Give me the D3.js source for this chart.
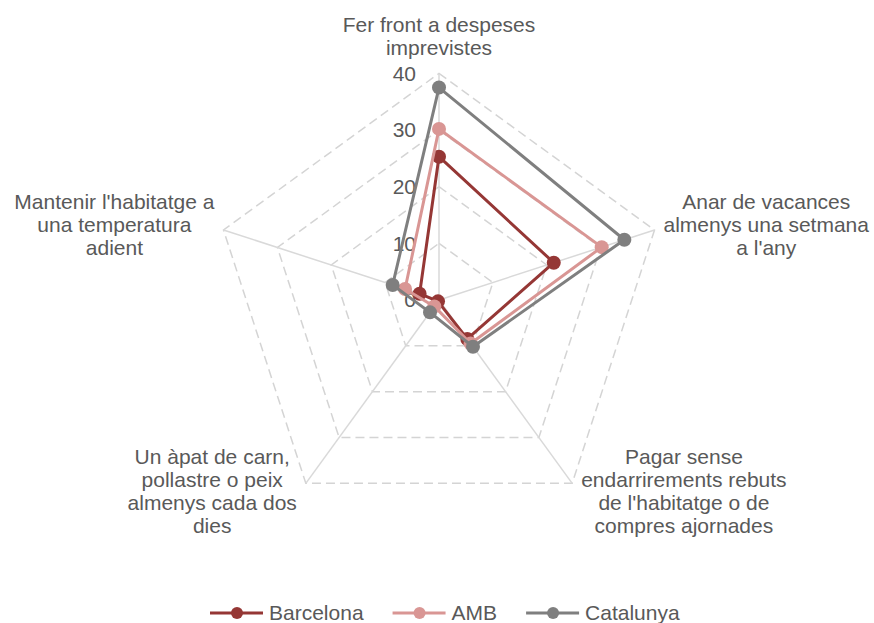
<!DOCTYPE html>
<html>
<head>
<meta charset="utf-8">
<script src="https://cdn.jsdelivr.net/npm/d3@7"></script>
<style>
body { margin: 0; background: #fff; }
text { font-family: "Liberation Sans", Arial, sans-serif; fill: #595959; font-size: 21px; }
</style>
</head>
<body>
<div id="my_dataviz"></div>
<script>
// axis labels, clockwise from the top
var categories = [
    ["Fer front a despeses", "imprevistes"],
    ["Anar de vacances", "almenys una setmana", "a l'any"],
    ["Pagar sense", "endarrirements rebuts", "de l'habitatge o de", "compres ajornades"],
    ["Un àpat de carn,", "pollastre o peix", "almenys cada dos", "dies"],
    ["Mantenir l'habitatge a", "una temperatura", "adient"]
];
var barcelona = [25.3, 21.3, 8.5, 0.3, 3.6];
var amb = [30.2, 30.2, 9.5, 1.4, 6.3];
var catalunya = [37.5, 34.4, 10.2, 2.7, 8.6];
var seriesNames = ["Barcelona", "AMB", "Catalunya"];
var tickValues = [0, 10, 20, 30, 40];

var width = 874,
    height = 623,
    center = {x: 439, y: 300},
    radius = 226.6,
    lineH = 23;

var colors = ["#953735", "#d99694", "#7f7f7f"];
var series = [barcelona, amb, catalunya];

var svg = d3.select("#my_dataviz")
    .append("svg")
    .attr("width", width)
    .attr("height", height);

var r = d3.scaleLinear().domain([0, 40]).range([0, radius]);
var angle = function(i) { return i * 2 * Math.PI / categories.length; };

var g = svg.append("g")
    .attr("transform", `translate(${center.x},${center.y})`);

// dashed rings
var ring = d3.lineRadial()
    .angle(function(d, i) { return angle(i); })
    .radius(function(d) { return r(d); })
    .curve(d3.curveLinearClosed);

g.selectAll(".ring")
    .data(tickValues.filter(function(t) { return t > 0; }))
    .enter().append("path")
    .attr("class", "ring")
    .attr("fill", "none")
    .attr("stroke", "#d4d4d4")
    .attr("stroke-width", 1.5)
    .attr("stroke-dasharray", "9,5")
    .attr("d", function(t) { return ring(categories.map(function() { return t; })); });

// spokes
g.selectAll(".spoke")
    .data(categories)
    .enter().append("line")
    .attr("class", "spoke")
    .attr("stroke", "#d9d9d9")
    .attr("stroke-width", 1.5)
    .attr("x1", 0).attr("y1", 0)
    .attr("x2", function(d, i) { return Math.sin(angle(i)) * r(40); })
    .attr("y2", function(d, i) { return -Math.cos(angle(i)) * r(40); });

// tick labels
g.selectAll(".tick")
    .data(tickValues)
    .enter().append("text")
    .attr("class", "tick")
    .attr("x", -23)
    .attr("y", function(t) { return -r(t); })
    .attr("dy", "0.35em")
    .attr("text-anchor", "end")
    .text(function(t) { return t; });

// category labels
categories.forEach(function(lines, i) {
    var vx = Math.sin(angle(i)) * r(40),
        vy = -Math.cos(angle(i)) * r(40);
    var t = g.append("text").attr("text-anchor", "middle");
    lines.forEach(function(s, k) {
        t.append("tspan").attr("x", 0).attr("y", k * lineH).text(s);
    });
    var w = d3.max(t.selectAll("tspan").nodes(), function(n) { return n.getComputedTextLength(); });
    var blockH = (lines.length - 1) * lineH;
    var x, y;
    if (Math.abs(vx) < 1) {
        x = vx;
        y = vy - 11 - blockH - 7;
    } else {
        x = vx > 0 ? vx + 9 + w / 2 : vx - 9 - w / 2;
        var mid = vy < 0 ? vy - 5 : vy + 8.5;
        y = mid - blockH / 2 + 7;
    }
    t.attr("transform", `translate(${x},${y})`);
});

// series
var radar = d3.lineRadial()
    .angle(function(d, i) { return angle(i); })
    .radius(function(d) { return r(d); })
    .curve(d3.curveLinearClosed);

series.forEach(function(values, s) {
    var sg = g.append("g");
    sg.append("path")
        .datum(values)
        .attr("fill", "none")
        .attr("stroke", colors[s])
        .attr("stroke-width", 3)
        .attr("stroke-linejoin", "round")
        .attr("d", radar);
    sg.selectAll("circle")
        .data(values)
        .enter().append("circle")
        .attr("r", 7)
        .attr("fill", colors[s])
        .attr("cx", function(d, i) { return Math.sin(angle(i)) * r(d); })
        .attr("cy", function(d, i) { return -Math.cos(angle(i)) * r(d); });
});

// legend
var legend = svg.append("g").attr("transform", "translate(210,613)");
var lx = 0;
seriesNames.forEach(function(name, s) {
    var item = legend.append("g").attr("transform", `translate(${lx},0)`);
    item.append("line")
        .attr("x1", 0).attr("x2", 53)
        .attr("stroke", colors[s])
        .attr("stroke-width", 3);
    item.append("circle")
        .attr("cx", 27).attr("r", 6)
        .attr("fill", colors[s]);
    var txt = item.append("text")
        .attr("x", 59)
        .attr("dy", "0.35em")
        .text(name);
    lx += 59 + txt.node().getComputedTextLength() + 29;
});
</script>
</body>
</html>
